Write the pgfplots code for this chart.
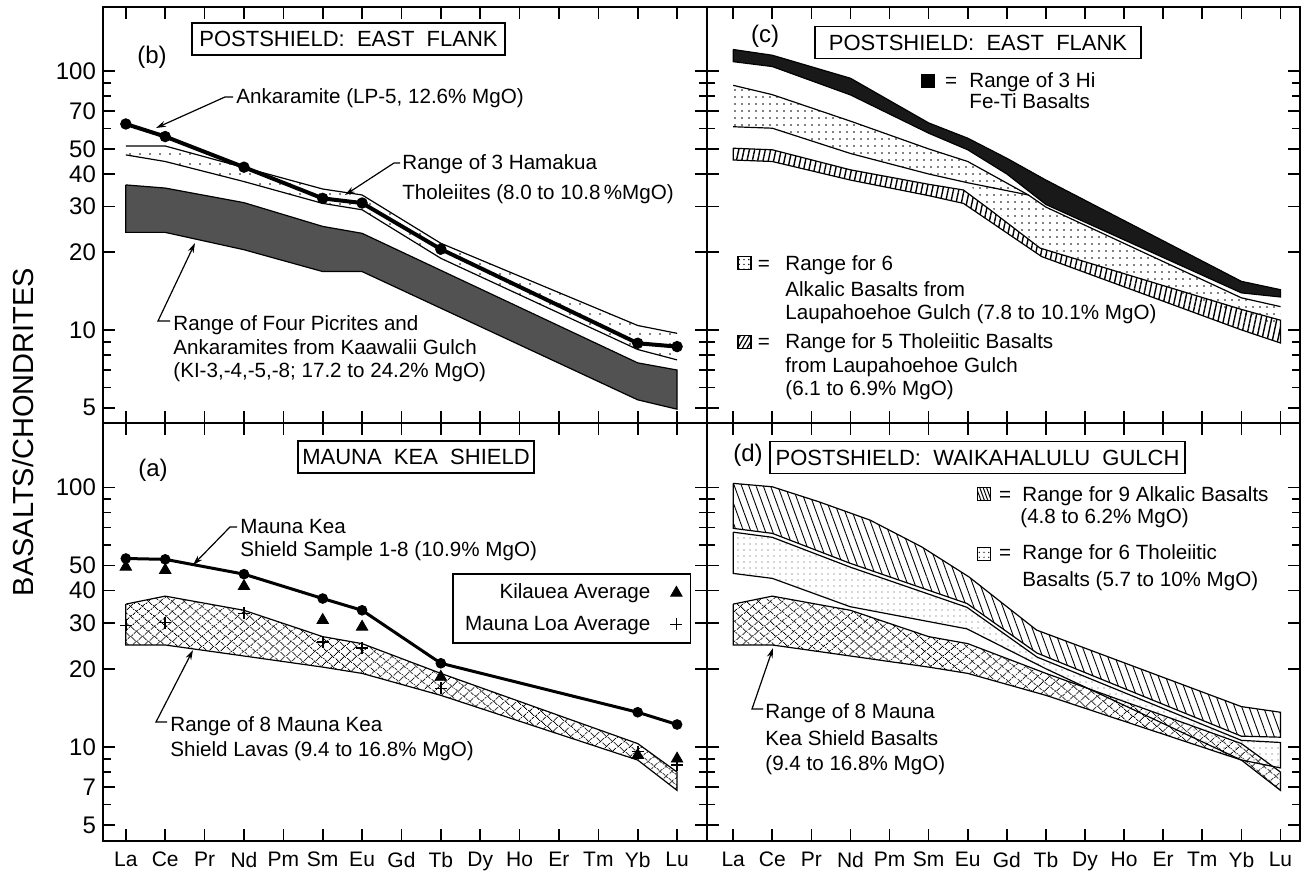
\documentclass[border=0pt]{standalone}
\usepackage{fontspec}
\setmainfont{Liberation Sans}
\usepackage{pgfplots}
\pgfplotsset{compat=1.18}
\usetikzlibrary{patterns.meta,arrows.meta}

\newcommand\annf{\fontsize{10.3}{12}\selectfont}
\newcommand\titf{\fontsize{11}{13}\selectfont}
\newcommand\ytf{\fontsize{12}{12}\selectfont}
\newcommand\xtf{\fontsize{10.5}{12}\selectfont}

\begin{document}
\begin{tikzpicture}
\path[use as bounding box] (0pt,0pt) rectangle (655pt,437pt);

% (b) postshield, east flank
\begin{axis}[scale only axis, anchor=south west, at={(51.5pt,225.5pt)},
  width=302pt, height=208pt, xmin=-0.58, xmax=14.76, ymode=log, ymin=4.37, ymax=176.6,
  xtick={0,...,14}, xticklabels={},
  ytick={5,10,20,30,40,50,70,100}, minor ytick={6,7,8,9,60,80,90},
  yticklabels={5,10,20,30,40,50,70,100},
  tick align=inside, major tick length=6pt, minor tick length=4pt,
  axis line style={line width=1.4pt}, tick style={black, line width=0.8pt},
  yticklabel style={font=\ytf}]
\addplot[fill=black!68, draw=black, line width=0.6pt] coordinates {(0,36.3) (1,35.3) (3,31) (5,25.1) (6,23.6) (13,7.46) (14,7.0) (14,4.94) (13,5.37) (6,16.8) (5,16.8) (3,20.4) (1,23.8) (0,23.8) (0,36.3)};
\addplot[pattern={Dots[distance=5pt,radius=0.45pt]}, draw=none] coordinates {(0,51.3) (1,51.3) (5,35) (6,33.2) (8,21.6) (13,10.4) (14,9.7) (14,7.66) (13,8.4) (8,18.9) (6,29.1) (5,30.8) (3,37.4) (1,44.7) (0,47.4)};
\addplot[black, line width=0.6pt] coordinates {(0,51.3) (1,51.3) (5,35) (6,33.2) (8,21.6) (13,10.4) (14,9.7)};
\addplot[black, line width=0.6pt] coordinates {(0,47.4) (1,44.7) (3,37.4) (5,30.8) (6,29.1) (8,18.9) (13,8.4) (14,7.66)};
\addplot[black, line width=2pt, mark=*, mark size=2.6pt, mark options={line width=0.5pt}]
  coordinates {(0,62.4) (1,55.8) (3,42.5) (5,32.2) (6,30.9) (8,20.5) (13,8.88) (14,8.62)};
\end{axis}

% (c) postshield, east flank
\begin{axis}[scale only axis, anchor=south west, at={(353.5pt,225.5pt)},
  width=296.5pt, height=208pt, xmin=-0.67, xmax=14.5, ymode=log, ymin=4.37, ymax=176.6,
  xtick={0,...,14}, xticklabels={},
  ytick={5,10,20,30,40,50,70,100}, minor ytick={6,7,8,9,60,80,90}, yticklabels={},
  tick align=inside, major tick length=6pt, minor tick length=4pt,
  axis line style={line width=1.4pt}, tick style={black, line width=0.8pt}]
% alkalic basalts (stipple)
\addplot[pattern={Dots[distance=3.5pt,radius=0.45pt]}, draw=none] coordinates {(0,88) (1,81) (3,64) (5,50) (6,44.7) (7.55,33.2) (8,29.8) (13,13.3) (14,12.3) (14,10.3) (13,11.5) (7.85,21) (6.57,30) (6,37) (5,40) (3,48) (1,60.1) (0,60.9)};
\addplot[black, line width=0.6pt] coordinates {(0,88) (1,81) (3,64) (5,50) (6,44.7) (7.55,33.2) (8,29.8) (13,13.3) (14,12.3)};
\addplot[black, line width=0.6pt] coordinates {(0,60.9) (1,60.1) (3,48) (5,40) (6,37) (7.55,33.2)};
% tholeiitic basalts (hatched)
\addplot[pattern={Lines[angle=78,distance=2.6pt,line width=0.7pt]}, draw=black, line width=0.6pt] coordinates {(0,50.3) (1,49.6) (3,41.5) (5,36.5) (5.89,34.7) (6.57,29.1) (7.85,20.7) (13,12) (14,10.9) (14,8.9) (13,10) (7.89,19.2) (5.89,30.8) (5,33) (3,37.9) (1,44.7) (0,45.3) (0,50.3)};
% hi Fe-Ti basalts (black)
\addplot[fill=black!90, draw=black, line width=0.6pt] coordinates {(0,121) (1,115) (3,93.7) (5,63) (6,55) (7,46) (8,37.9) (13,15.4) (14,14.3) (14,13.4) (13,13.9) (8,30.5) (7,40) (6,49.6) (5,57.5) (3,80.8) (1,104) (0,108.6) (0,121)};
\end{axis}

% (a) Mauna Kea shield
\begin{axis}[scale only axis, anchor=south west, at={(51.5pt,16.5pt)},
  width=302pt, height=209pt, xmin=-0.58, xmax=14.76, ymode=log, ymin=4.34, ymax=177,
  xtick={0,...,14}, xticklabels={La,Ce,Pr,Nd,Pm,Sm,Eu,Gd,Tb,Dy,Ho,Er,Tm,Yb,Lu},
  ytick={5,7,10,20,30,40,50,100}, minor ytick={6,8,9,60,70,80,90},
  yticklabels={5,7,10,20,30,40,50,100},
  tick align=inside, major tick length=6pt, minor tick length=4pt,
  axis line style={line width=1.4pt}, tick style={black, line width=0.8pt},
  yticklabel style={font=\ytf}, xticklabel style={font=\xtf, yshift=-2pt},
  legend plot pos=right,
  legend style={at={(0.974,0.641)}, anchor=north east, draw=black,
    line width=0.9pt, font=\annf, row sep=3pt, column sep=8pt,
    inner xsep=4pt, inner ysep=3pt, cells={anchor=east}}]
\addplot[forget plot, pattern={Lines[angle=40,distance=4pt,line width=0.5pt]}, draw=none] coordinates {(0,35.5) (1,38.1) (3,33.6) (5,26.6) (6,25) (8,19.2) (13,10.3) (14,8.0) (14,6.8) (13,8.9) (8,15.8) (6,19.2) (5,20.3) (3,22.4) (1,24.7) (0,24.7)};
\addplot[forget plot, pattern={Lines[angle=-40,distance=4pt,line width=0.5pt]}, draw=black, line width=0.6pt] coordinates {(0,35.5) (1,38.1) (3,33.6) (5,26.6) (6,25) (8,19.2) (13,10.3) (14,8.0) (14,6.8) (13,8.9) (8,15.8) (6,19.2) (5,20.3) (3,22.4) (1,24.7) (0,24.7) (0,35.5)};
\addplot[forget plot, black, line width=1.5pt, mark=*, mark size=2.4pt, mark options={line width=0.5pt}]
  coordinates {(0,53.2) (1,52.8) (3,46.3) (5,37.3) (6,33.6) (8,21) (13,13.6) (14,12.2)};
\addplot[black, only marks, mark=triangle*, mark size=3.3pt, mark options={line width=0.4pt}]
  coordinates {(0,49.4) (1,48) (3,41.6) (5,30.8) (6,29) (8,18.6) (13,9.3) (14,9.0)};
\addlegendentry{Kilauea Average}
\addplot[black, only marks, mark=+, mark size=3pt, mark options={line width=0.8pt}]
  coordinates {(0,29.4) (1,30.1) (3,32.7) (5,25.4) (6,24) (8,16.8) (13,9.6) (14,8.5)};
\addlegendentry{Mauna Loa Average}
\end{axis}

% (d) postshield, Waikahalulu Gulch
\begin{axis}[scale only axis, anchor=south west, at={(353.5pt,16.5pt)},
  width=296.5pt, height=209pt, xmin=-0.67, xmax=14.5, ymode=log, ymin=4.34, ymax=177,
  xtick={0,...,14}, xticklabels={La,Ce,Pr,Nd,Pm,Sm,Eu,Gd,Tb,Dy,Ho,Er,Tm,Yb,Lu},
  ytick={5,7,10,20,30,40,50,100}, minor ytick={6,8,9,60,70,80,90}, yticklabels={},
  tick align=inside, major tick length=6pt, minor tick length=4pt,
  axis line style={line width=1.4pt}, tick style={black, line width=0.8pt},
  xticklabel style={font=\xtf, yshift=-2pt}]
% Mauna Kea shield range (crosshatch)
\addplot[pattern={Lines[angle=40,distance=4pt,line width=0.5pt]}, draw=none] coordinates {(0,35.5) (1,38.1) (3,33.6) (5,26.6) (6,25) (8,19.2) (13,10.3) (14,8.0) (14,6.8) (13,8.9) (8,15.8) (6,19.2) (5,20.3) (3,22.4) (1,24.7) (0,24.7)};
\addplot[pattern={Lines[angle=-40,distance=4pt,line width=0.5pt]}, draw=black, line width=0.6pt] coordinates {(0,35.5) (1,38.1) (3,33.6) (5,26.6) (6,25) (8,19.2) (13,10.3) (14,8.0) (14,6.8) (13,8.9) (8,15.8) (6,19.2) (5,20.3) (3,22.4) (1,24.7) (0,24.7) (0,35.5)};
% tholeiitic basalts (speckled)
\addplot[pattern={Dots[distance=3pt,radius=0.35pt]}, pattern color=black!70, draw=black, line width=0.6pt] coordinates {(0,67.2) (1,64.2) (2.99,49.3) (5.98,34.5) (7.77,22.2) (13,10.6) (14,10.4) (14,8.3) (13,8.9) (8,20) (5.98,28.5) (2.99,34.7) (1,44.6) (0,46.6) (0,67.2)};
% alkalic basalts (hatched)
\addplot[pattern={Lines[angle=110,distance=3.4pt,line width=0.45pt]}, draw=black, line width=0.6pt] coordinates {(0,103.6) (1,100.5) (2.19,88) (3.5,74.8) (4.82,59) (6.03,45.2) (7.76,28.2) (13,14.3) (14,13.6) (14,10.9) (13,11) (7.77,23) (5.98,35.7) (2.99,51) (1,66.5) (0,69.5) (0,103.6)};
\end{axis}

\node[rotate=90, font=\fontsize{14.5}{16}\selectfont] at (11.5pt,221pt) {BASALTS/CHONDRITES};

\begin{scope}[x=0.5pt, y=-0.5pt, yshift=437pt]
\tikzset{lead/.style={line width=0.6pt, -{Stealth[length=5pt,width=3pt]}},
  ann/.style={anchor=base west, font=\annf, inner sep=0pt},
  ttl/.style={draw, line width=0.9pt, font=\titf, minimum height=16pt, inner xsep=2pt, inner ysep=0pt},
  pan/.style={font=\fontsize{12}{14}\selectfont}}
% (b)
\node[pan] at (152,57) {(b)};
\node[ttl, minimum width=156.5pt] at (348.5,39) {POSTSHIELD:\ \ EAST\ \ FLANK};
\node[ann] at (236,104) {Ankaramite (LP-5, 12.6\% MgO)};
\draw[lead] (233,97) -- (225,97) -- (156,128);
\node[ann] at (402,170) {Range of 3 Hamakua};
\node[ann] at (402,200) {Tholeiites (8.0 to 10.8\,\%MgO)};
\draw[lead] (400,163) -- (394,163) -- (345,195);
\node[ann] at (173,330) {Range of Four Picrites and};
\node[ann] at (173,354) {Ankaramites from Kaawalii Gulch};
\node[ann] at (173,377) {(KI-3,-4,-5,-8; 17.2 to 24.2\% MgO)};
\draw[lead] (170,321) -- (158,321) -- (195,243);
% (c)
\node[pan] at (765,36) {(c)};
\node[ttl, minimum width=163pt] at (978,42.5) {POSTSHIELD:\ \ EAST\ \ FLANK};
\node[draw, line width=0.8pt, fill=black, minimum size=6.5pt, inner sep=0pt] at (928,81) {};
\node[ann, anchor=base] at (951,88) {=};
\node[ann] at (969,88) {Range of 3 Hi};
\node[ann] at (969,109) {Fe-Ti Basalts};
\node[draw, line width=0.8pt, pattern={Dots[distance=2.4pt,radius=0.4pt]}, minimum size=6.5pt, inner sep=0pt] at (744.5,263) {};
\node[ann, anchor=base] at (764,271) {=};
\node[ann] at (785,271) {Range for 6};
\node[ann] at (785,297) {Alkalic Basalts from};
\node[ann] at (785,320) {Laupahoehoe Gulch (7.8 to 10.1\% MgO)};
\node[draw, line width=0.8pt, pattern={Lines[angle=60,distance=2pt,line width=0.6pt]}, minimum size=6.5pt, inner sep=0pt] at (744.5,342) {};
\node[ann, anchor=base] at (764,349) {=};
\node[ann] at (785,349) {Range for 5 Tholeiitic Basalts};
\node[ann] at (785,372) {from Laupahoehoe Gulch};
\node[ann] at (785,395) {(6.1 to 6.9\% MgO)};
% (a)
\node[pan] at (153,470) {(a)};
\node[ttl, minimum width=115pt] at (416,457) {MAUNA\ \ KEA\ \ SHIELD};
\node[ann] at (240,533) {Mauna Kea};
\node[ann] at (240,556) {Shield Sample 1-8 (10.9\% MgO)};
\draw[lead] (237,527) -- (230,527) -- (193,565);
\node[ann] at (170,731) {Range of 8 Mauna Kea};
\node[ann] at (170,756) {Shield Lavas (9.4 to 16.8\% MgO)};
\draw[lead] (167,722) -- (156,722) -- (193,650);
% (d)
\node[pan] at (748,455) {(d)};
\node[ttl, minimum width=207.5pt] at (977.5,457.5) {POSTSHIELD:\ \ WAIKAHALULU\ \ GULCH};
\node[draw, line width=0.8pt, pattern={Lines[angle=110,distance=1.6pt,line width=0.5pt]}, minimum size=6.5pt, inner sep=0pt] at (984,494) {};
\node[ann, anchor=base] at (1005,501) {=};
\node[ann] at (1022,501) {Range for 9 Alkalic Basalts};
\node[ann] at (1020,523) {(4.8 to 6.2\% MgO)};
\node[draw, line width=0.8pt, pattern={Dots[distance=2.4pt,radius=0.35pt]}, minimum size=6.5pt, inner sep=0pt] at (984,554) {};
\node[ann, anchor=base] at (1005,559) {=};
\node[ann] at (1022,559) {Range for 6 Tholeiitic};
\node[ann] at (1022,586) {Basalts (5.7 to 10\% MgO)};
\node[ann] at (765,718) {Range of 8 Mauna};
\node[ann] at (765,745) {Kea Shield Basalts};
\node[ann] at (765,770) {(9.4 to 16.8\% MgO)};
\draw[lead] (763,709) -- (752,709) -- (773,648);
\end{scope}
\end{tikzpicture}
\end{document}
